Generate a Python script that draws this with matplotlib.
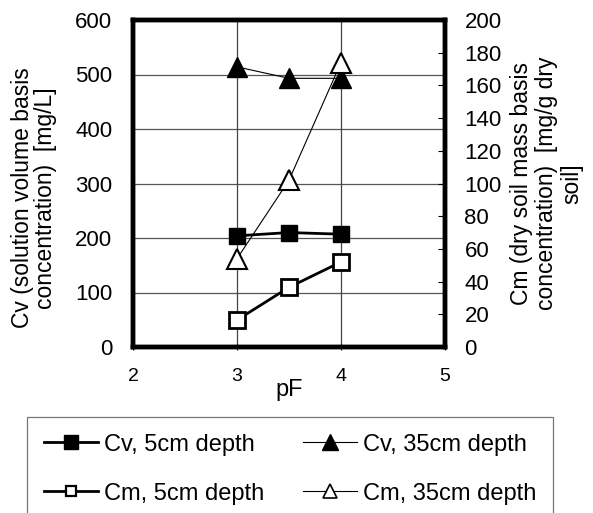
import matplotlib
matplotlib.use("Agg")
import matplotlib.pyplot as plt
from matplotlib.lines import Line2D

plt.rcParams['font.family'] = ['Liberation Sans', 'DejaVu Sans']

pf = [3, 3.5, 4]
cv_5cm = [204, 210, 207]
cv_35cm = [514, 493, 493]
cm_5cm = [16.5, 36.5, 52]
cm_35cm = [54, 102, 174]

x_ticks = [2, 3, 4, 5]
left_ticks = [0, 100, 200, 300, 400, 500, 600]
right_ticks = list(range(0, 201, 20))

fig = plt.figure(figsize=(5.93, 5.13), dpi=100)
ax = fig.add_axes([133/593, 1-347/513, (445-133)/593, (347-20)/513])
ax2 = ax.twinx()

ax.set_xlim(2, 5)
ax.set_ylim(0, 600)
ax2.set_ylim(0, 200)

ax.set_xticks(x_ticks)
ax.set_yticks(left_ticks)
ax2.set_yticks(right_ticks)

for v in [100, 200, 300, 400, 500]:
    ax.axhline(v, color='#555555', lw=0.9, zorder=0)
for v in [3, 4]:
    ax.axvline(v, color='#444444', lw=0.9, zorder=0)

ax.plot(pf, cv_5cm, color='black', lw=2, marker='s', ms=12,
        mfc='black', mec='black', zorder=3)
ax.plot(pf, cv_35cm, color='black', lw=0.8, marker='^', ms=14,
        mfc='black', mec='black', zorder=3)
ax2.plot(pf, cm_5cm, color='black', lw=2, marker='s', ms=12,
         mfc='white', mec='black', mew=2, zorder=3)
ax2.plot(pf, cm_35cm, color='black', lw=0.8, marker='^', ms=14,
         mfc='white', mec='black', mew=1.5, zorder=3)

for a in (ax, ax2):
    for s in a.spines.values():
        s.set_linewidth(3.2)
        s.set_color('black')

ax.tick_params(axis='y', length=0, pad=15, labelsize=16)
ax.tick_params(axis='x', direction='inout', length=4, width=0.8, pad=13, labelsize=14)
ax2.tick_params(axis='y', direction='in', length=5, width=0.8, pad=14, labelsize=16)

ax.set_xlabel('pF', fontsize=17, labelpad=-4)
ax.set_ylabel('Cv (solution volume basis\nconcentration)  [mg/L]', fontsize=16.5,
              linespacing=1.0)
ax.yaxis.set_label_coords(-0.245, 0.456)
ax2.set_ylabel('Cm (dry soil mass basis\nconcentration)  [mg/g dry\nsoil]', fontsize=16.5,
               linespacing=1.12, rotation=90)
ax2.yaxis.set_label_coords(1.208, 0.5)

handles = [
    Line2D([], [], color='black', lw=2, marker='s', ms=10, mfc='black', mec='black'),
    Line2D([], [], color='black', lw=2, marker='s', ms=7.5, mfc='white', mec='black', mew=1.6),
    Line2D([], [], color='black', lw=0.8, marker='^', ms=12, mfc='black', mec='black'),
    Line2D([], [], color='black', lw=0.8, marker='^', ms=10, mfc='white', mec='black', mew=1.2),
]
labels = ['Cv, 5cm depth', 'Cm, 5cm depth', 'Cv, 35cm depth', 'Cm, 35cm depth']
leg = fig.legend(handles, labels, ncol=2, loc='upper left',
                 bbox_to_anchor=(27/593, 1-417/513, (553-27)/593, 0.0),
                 mode='expand', frameon=True, fancybox=False, fontsize=17,
                 handlelength=2.3, handletextpad=0.25, columnspacing=1.0,
                 labelspacing=1.15, borderpad=0.7, borderaxespad=0)
leg.get_frame().set_edgecolor('#555555')
leg.get_frame().set_linewidth(0.9)

fig.savefig('out.png', dpi=100)
